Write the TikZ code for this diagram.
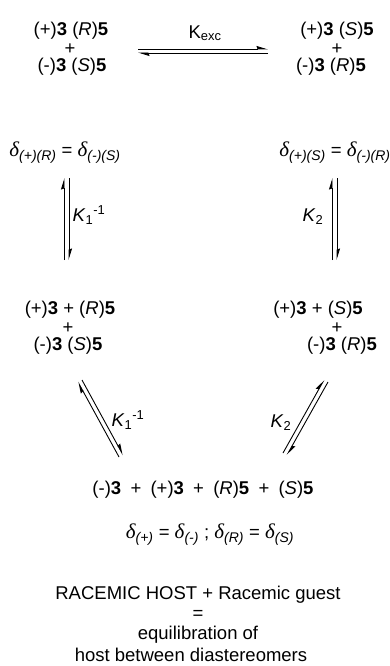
\documentclass[tikz,border=0pt]{standalone}
\usepackage{fontspec}
\setmainfont{Liberation Sans}
\newfontfamily\grk{Liberation Serif}
\usetikzlibrary{arrows.meta}
\newcommand{\dsub}[1]{{\grk\itshape\fontsize{21}{22}\selectfont δ}\textsubscript{\itshape\fontsize{14}{16}\selectfont #1}}
\begin{document}
\begin{tikzpicture}[x=1pt,y=-1pt,
  txt/.style={inner sep=0pt, font=\fontsize{18.5}{22}\selectfont},
  eqarr/.style={line width=0.9pt, -{Stealth[left,length=10pt,width=6pt,inset=1pt]}}]
\useasboundingbox (0,0) rectangle (389,666);
% top left
\node[txt] (a1) at (71,31) {(+)\textbf{3} (\textit{R})\textbf{5}};
\node[txt] (a2) at (70,49) {+};
\node[txt] (a3) at (72,67) {(-)\textbf{3} (\textit{S})\textbf{5}};
\node[txt] (ad) at (65,153) {\dsub{(+)(R)} = \dsub{(-)(S)}};
% top right
\node[txt] (b1) at (337,31) {(+)\textbf{3} (\textit{S})\textbf{5}};
\node[txt] (b2) at (337,49) {+};
\node[txt] (b3) at (331,67) {(-)\textbf{3} (\textit{R})\textbf{5}};
\node[txt] (bd) at (335,153) {\dsub{(+)(S)} = \dsub{(-)(R)}};
% Kexc
\node[txt] (kx) at (205,33) {K\textsubscript{exc}};
\coordinate (h1) at (138,49); \coordinate (h2) at (268,49);
\coordinate (h3) at (268,53); \coordinate (h4) at (138,53);
\draw[eqarr] (h1) -- (h2);
\draw[eqarr] (h3) -- (h4);
% left vertical
\coordinate (v1) at (64,260); \coordinate (v2) at (64,178);
\coordinate (v3) at (69,178); \coordinate (v4) at (69,260);
\draw[eqarr] (v1) -- (v2);
\draw[eqarr] (v3) -- (v4);
\node[txt] (k1) at (89,215) {\textit{K}\textsubscript{1}\textsuperscript{-1}};
% right vertical
\coordinate (w1) at (332,260); \coordinate (w2) at (332,178);
\coordinate (w3) at (337,178); \coordinate (w4) at (337,260);
\draw[eqarr] (w1) -- (w2);
\draw[eqarr] (w3) -- (w4);
\node[txt] (k2) at (313,217) {\textit{K}\textsubscript{2}};
% middle left
\node[txt] (c1) at (70,310) {(+)\textbf{3} + (\textit{R})\textbf{5}};
\node[txt] (c2) at (68,328) {+};
\node[txt] (c3) at (68,346) {(-)\textbf{3} (\textit{S})\textbf{5}};
% middle right
\node[txt] (d1) at (318,310) {(+)\textbf{3} + (\textit{S})\textbf{5}};
\node[txt] (d2) at (337,328) {+};
\node[txt] (d3) at (342,346) {(-)\textbf{3} (\textit{R})\textbf{5}};
% left diagonal
\coordinate (p1) at (119,457); \coordinate (p2) at (78,382);
\coordinate (p3) at (82,380); \coordinate (p4) at (123,455);
\draw[eqarr] (p1) -- (p2);
\draw[eqarr] (p3) -- (p4);
\node[txt] (k3) at (128,420) {\textit{K}\textsubscript{1}\textsuperscript{-1}};
% right diagonal
\coordinate (q1) at (283,453); \coordinate (q2) at (324,380);
\coordinate (q3) at (328,382); \coordinate (q4) at (287,455);
\draw[eqarr] (q1) -- (q2);
\draw[eqarr] (q3) -- (q4);
\node[txt] (k4) at (281,423) {\textit{K}\textsubscript{2}};
% bottom
\node[txt] (e1) at (203,490) {(-)\textbf{3}\enspace+\enspace(+)\textbf{3}\enspace+\enspace(\textit{R})\textbf{5}\enspace+\enspace(\textit{S})\textbf{5}};
\node[txt] (e2) at (210,535) {\dsub{(+)} = \dsub{(-)} ; \dsub{(R)} = \dsub{(S)}};
\node[txt] (f1) at (198,595) {RACEMIC HOST + Racemic guest};
\node[txt] (f2) at (198,615) {=};
\node[txt] (f3) at (198,635) {equilibration of};
\node[txt] (f4) at (191,655) {host between diastereomers};
\end{tikzpicture}
\end{document}
